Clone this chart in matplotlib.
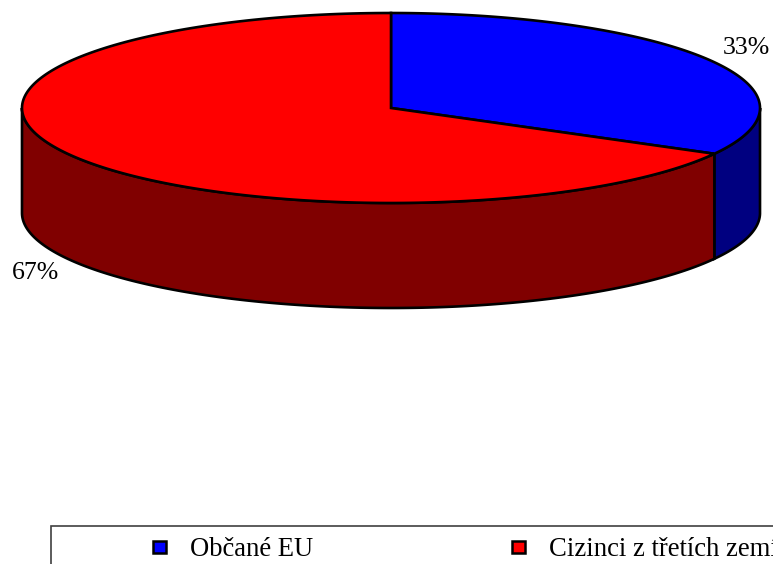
import numpy as np
import matplotlib
matplotlib.use("Agg")
from matplotlib import pyplot as plt
from matplotlib.patches import Polygon, Rectangle

plt.rcParams['font.family'] = ['Liberation Serif', 'DejaVu Serif']

# shares of the two groups (percent)
categories = ["Občané EU", "Cizinci z třetích zemí"]
values = [33, 67]
top_colors = ["#0000ff", "#ff0000"]
side_colors = ["#000080", "#800000"]

# geometry of the tilted pie, in pixels
cx, cy = 391, 108
rx, ry = 369, 95
depth = 105

fig = plt.figure(figsize=(7.73, 5.64), dpi=100)
ax = fig.add_axes([0, 0, 1, 1])
ax.set_xlim(0, 773)
ax.set_ylim(564, 0)
ax.axis("off")


def ellipse_pts(t0, t1, n=200):
    t = np.radians(np.linspace(t0, t1, n))
    return cx + rx * np.cos(t), cy - ry * np.sin(t)


# wedges go clockwise starting at 12 o'clock
total = float(sum(values))
angles = []
start = 90.0
for v in values:
    end = start - 360.0 * v / total
    angles.append((start, end))
    start = end

# front side walls (only the part of each arc that faces the viewer)
for (a0, a1), col in zip(angles, side_colors):
    hi = min(a0, 0.0)
    lo = max(a1, -180.0)
    if hi <= lo:
        continue
    x, y = ellipse_pts(hi, lo)
    xs = np.concatenate([x, x[::-1]])
    ys = np.concatenate([y, y[::-1] + depth])
    ax.add_patch(Polygon(np.column_stack([xs, ys]), closed=True,
                         facecolor=col, edgecolor="black", lw=1.9, zorder=2))

# top faces
for (a0, a1), col in zip(angles, top_colors):
    x, y = ellipse_pts(a0, a1)
    xs = np.concatenate([[cx], x])
    ys = np.concatenate([[cy], y])
    ax.add_patch(Polygon(np.column_stack([xs, ys]), closed=True,
                         facecolor=col, edgecolor="black", lw=1.9,
                         joinstyle="miter", zorder=3))

# percentage labels outside the rim
for (a0, a1), v in zip(angles, values):
    mid = np.radians((a0 + a1) / 2)
    lx = cx + rx * 1.12 * np.cos(mid)
    ly = cy - ry * 1.25 * np.sin(mid)
    if np.sin(mid) < 0:
        ly += depth
    ax.text(lx, ly, f"{v}%", fontsize=18.5, ha="center", va="center", zorder=4)

# legend box at the bottom
ax.add_patch(Rectangle((51, 526), 800, 100, facecolor="white",
                       edgecolor="#404040", lw=1.2, zorder=1))
leg_x = [153, 512]
for lx, lab, col in zip(leg_x, categories, top_colors):
    ax.add_patch(Rectangle((lx, 541), 13, 12, facecolor=col,
                           edgecolor="black", lw=1.8, zorder=3))
    ax.text(lx + 37, 549, lab, fontsize=19.2, ha="left", va="center", zorder=3)

fig.savefig("out.png", dpi=100)
